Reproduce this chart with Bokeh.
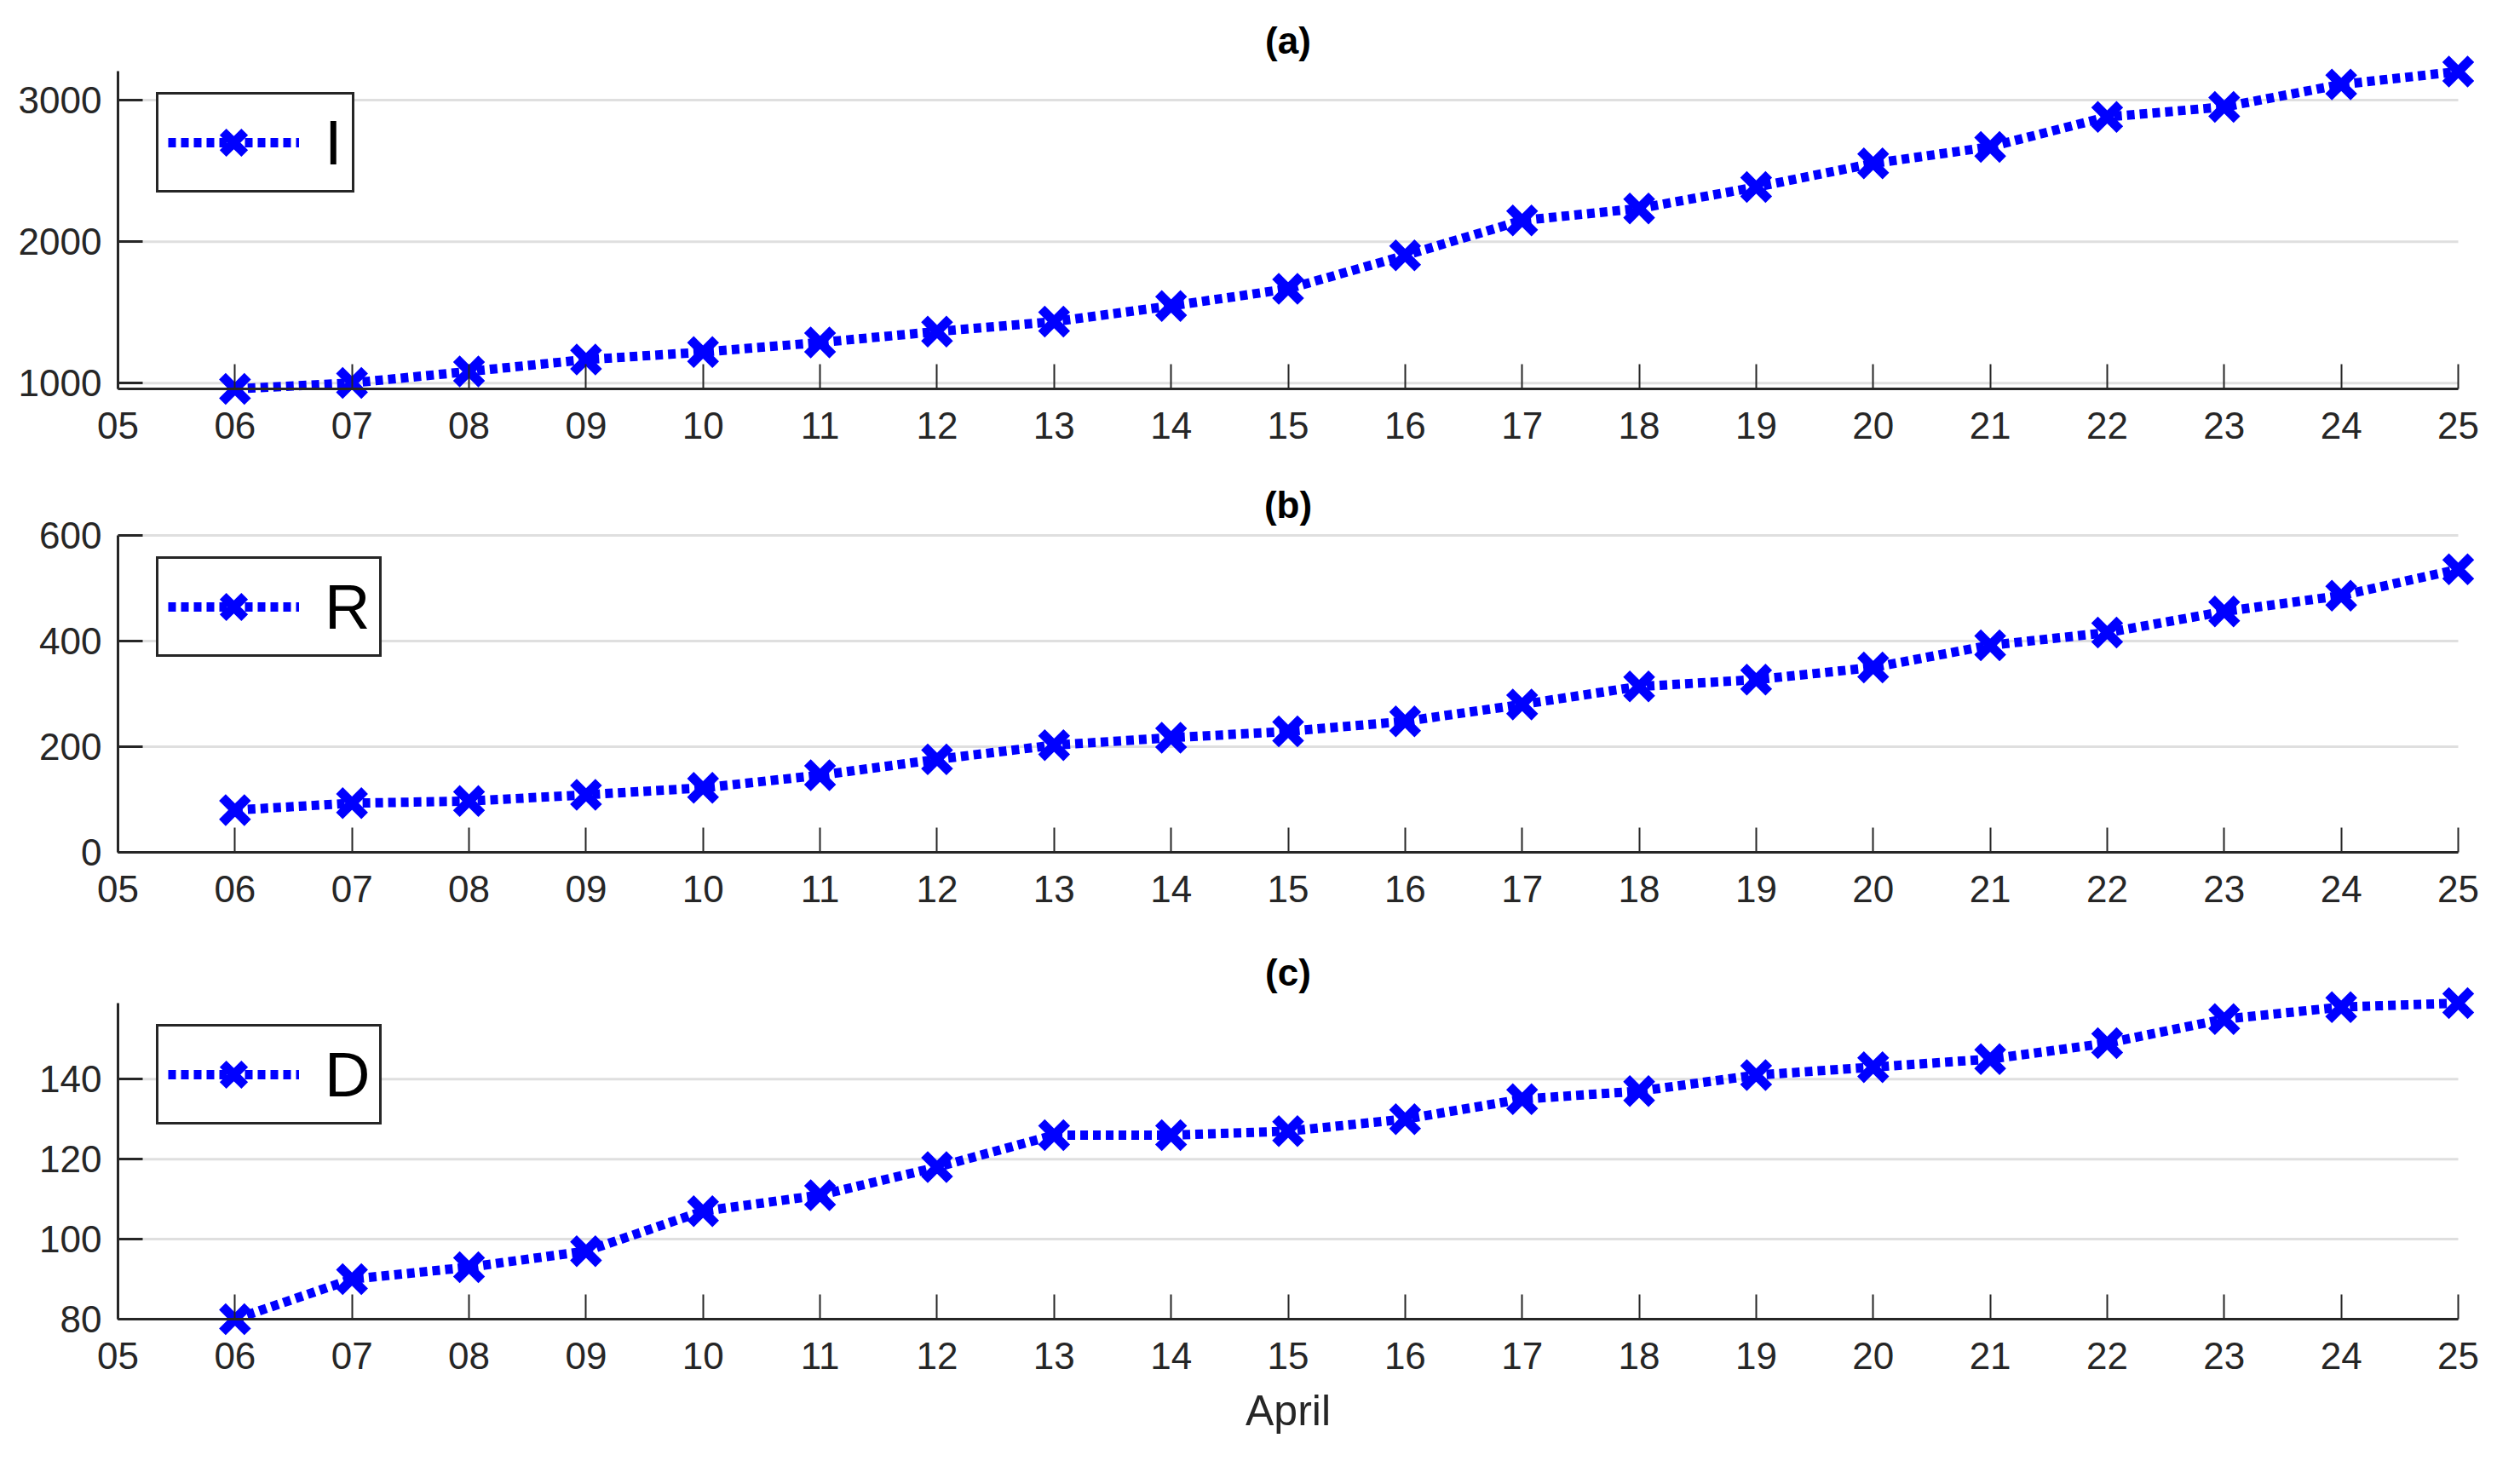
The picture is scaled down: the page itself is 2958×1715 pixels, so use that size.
from bokeh.plotting import figure
from bokeh.layouts import column
from bokeh.models import FixedTicker, Legend, LegendItem, Range1d, Label
from bokeh.embed import file_html
from bokeh.resources import INLINE

# ---- data ----
days = list(range(6, 26))
day_ticks = list(range(5, 26))
day_labels = ["%02d" % d for d in day_ticks]

I_vals = [960, 1002, 1083, 1167, 1220, 1288, 1365, 1435, 1546, 1667,
          1903, 2150, 2235, 2386, 2553, 2670, 2882, 2952, 3111, 3202]
R_vals = [80, 93, 97, 109, 122, 146, 176, 203, 217, 229,
          248, 280, 314, 327, 350, 392, 416, 456, 486, 536]
D_vals = [80, 90, 93, 97, 107, 111, 118, 126, 126, 127,
          130, 135, 137, 141, 143, 145, 149, 155, 158, 159]

panel_titles = ["(a)", "(b)", "(c)"]
series_names = ["I", "R", "D"]
y_ranges = [(960, 3205), (0, 600), (80, 159)]
y_ticks = [[1000, 2000, 3000], [0, 200, 400, 600], [80, 100, 120, 140]]
x_label = "April"

FONT = "Liberation Sans"
AX = "#262626"
BLUE = "#0000ff"
FIG_W = 2958
AX_LEFT, AX_RIGHT = 138, 2885      # pixel x of the axis ends
X0, X1 = day_ticks[0], day_ticks[-1]


def make_panel(title, name, vals, yr, yt, fig_h, top_px, bottom_px, xlabel=None):
    ylo, yhi = yr
    upp_x = (X1 - X0) / (AX_RIGHT - AX_LEFT)
    upp_y = (yhi - ylo) / (bottom_px - top_px)
    p = figure(frame_width=FIG_W, frame_height=fig_h,
               min_border=0, min_border_left=0, min_border_right=0,
               min_border_top=0, min_border_bottom=0,
               x_range=Range1d(X0 - AX_LEFT * upp_x, X1 + (FIG_W - AX_RIGHT) * upp_x),
               y_range=Range1d(ylo - (fig_h - bottom_px) * upp_y, yhi + top_px * upp_y),
               output_backend="svg", toolbar_location=None,
               background_fill_color="white", border_fill_color="white")
    p.outline_line_color = None
    p.xgrid.visible = False
    p.ygrid.visible = False

    # horizontal grid lines at the y ticks, spanning the data extent
    p.segment(x0=[X0] * len(yt), x1=[X1] * len(yt), y0=yt, y1=yt,
              line_color="#dfdfdf", line_width=3)

    for ax in (p.xaxis[0], p.yaxis[0]):
        ax.axis_line_color = AX
        ax.axis_line_width = 3
        ax.major_tick_line_color = AX
        ax.major_tick_in = 29
        ax.major_tick_out = 0
        ax.minor_tick_line_color = None
        ax.major_label_text_font = FONT
        ax.major_label_text_font_size = "44px"
        ax.major_label_text_color = AX
    xa, ya = p.xaxis[0], p.yaxis[0]
    xa.major_tick_line_width = 2
    ya.major_tick_line_width = 3
    xa.fixed_location = ylo
    ya.fixed_location = X0
    xa.bounds = (X0, X1)
    ya.bounds = (ylo, yhi)

    xa.ticker = FixedTicker(ticks=day_ticks)
    xa.major_label_overrides = {t: l for t, l in zip(day_ticks, day_labels)}
    xa.major_label_standoff = 27
    ya.ticker = FixedTicker(ticks=yt)
    ya.major_label_standoff = 19

    if xlabel:
        xa.axis_label = xlabel
        xa.axis_label_text_font = FONT
        xa.axis_label_text_font_size = "50px"
        xa.axis_label_text_font_style = "normal"
        xa.axis_label_text_color = AX
        xa.axis_label_standoff = 18

    ln = p.line(days, vals, line_color=BLUE, line_width=11, line_dash="9 6")
    sc = p.scatter(days, vals, marker="x", size=42, line_color=BLUE, line_width=11)

    leg_h = 113
    leg = Legend(items=[LegendItem(label=name, renderers=[ln, sc])],
                 location=(AX_LEFT + 45, fig_h - top_px - 30 - leg_h))
    leg.border_line_color = AX
    leg.border_line_alpha = 1
    leg.border_line_width = 3
    leg.background_fill_color = "white"
    leg.background_fill_alpha = 1
    leg.label_text_font = FONT
    leg.label_text_font_size = "74px"
    leg.label_text_color = "black"
    leg.glyph_width = 154
    leg.glyph_height = 90
    leg.padding = 11
    leg.label_standoff = 30
    leg.margin = 0
    leg.spacing = 0
    p.add_layout(leg)

    t = Label(x=(X0 + X1) / 2, y=yhi, y_offset=36, text=title,
              text_align="center", text_baseline="middle",
              text_font=FONT, text_font_size="44px", text_font_style="bold",
              text_color="black")
    p.add_layout(t)
    return p


pa = make_panel(panel_titles[0], series_names[0], I_vals, y_ranges[0], y_ticks[0], 560, 83, 456)
pb = make_panel(panel_titles[1], series_names[1], R_vals, y_ranges[1], y_ticks[1], 550, 68, 440)
pc = make_panel(panel_titles[2], series_names[2], D_vals, y_ranges[2], y_ticks[2], 605, 67, 438,
                xlabel=x_label)

layout = column(pa, pb, pc, spacing=0)
open("out.html", "w").write(file_html(layout, INLINE))
